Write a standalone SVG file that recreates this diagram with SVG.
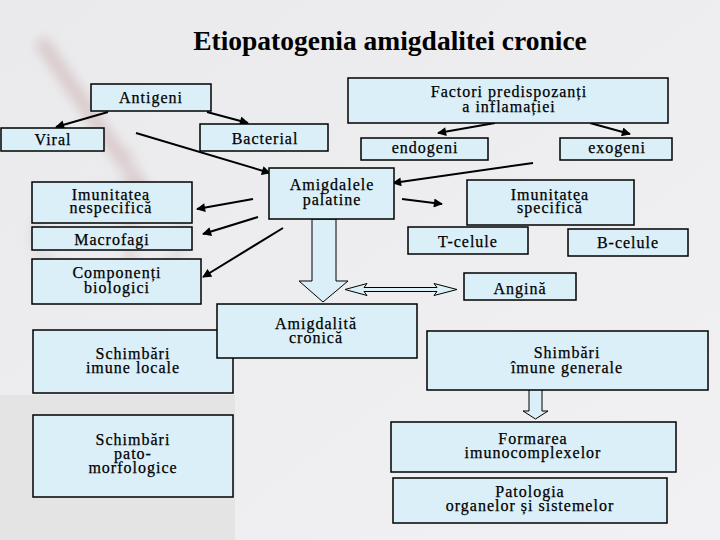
<svg xmlns="http://www.w3.org/2000/svg" width="720" height="540" viewBox="0 0 720 540">
<defs>
<linearGradient id="bg" x1="0" y1="0" x2="1" y2="1">
<stop offset="0" stop-color="#eaeaec"/>
<stop offset="1" stop-color="#f1f1f3"/>
</linearGradient>
<filter id="blur" x="-50%" y="-50%" width="200%" height="200%"><feGaussianBlur stdDeviation="6"/></filter>
<marker id="ah" viewBox="0 0 10 10" refX="9" refY="5" markerWidth="5" markerHeight="4.5" orient="auto" markerUnits="strokeWidth">
<path d="M0,0 L10,5 L0,10 z" fill="#000"/>
</marker>
<style>
.box{fill:#dbeff9;stroke:#000;stroke-width:1.5}
.t{font-family:'Liberation Serif','DejaVu Serif',serif;font-size:16px;font-weight:normal;letter-spacing:1px;fill:#000;stroke:#000;stroke-width:0.25;text-anchor:middle}
.title{font-family:'Liberation Serif','DejaVu Serif',serif;font-size:27.5px;font-weight:bold;fill:#000;text-anchor:middle}
.c{stroke:#000;stroke-width:2;fill:none;marker-end:url(#ah)}
.ha{fill:#dbeff9;stroke:#000;stroke-width:1}
</style>
</defs>
<rect x="0" y="0" width="720" height="540" fill="url(#bg)"/>
<rect x="0" y="395" width="235" height="145" fill="#e4e4e4"/>
<g filter="url(#blur)" opacity="0.35">
<path d="M40,40 L150,200" stroke="#b88888" stroke-width="14" fill="none"/>
<path d="M128,150 L132,300" stroke="#c0a0a0" stroke-width="10" fill="none"/>
<ellipse cx="110" cy="235" rx="75" ry="45" stroke="#a8a8a8" stroke-width="6" fill="none"/>
</g>

<text class="title" x="390" y="50">Etiopatogenia amigdalitei cronice</text>

<g id="connectors">
<path class="c" d="M108,112 L56,127"/>
<path class="c" d="M207,112 L248,123"/>
<path class="c" d="M136,133 L270,173"/>
<path class="c" d="M495,123 L438,133"/>
<path class="c" d="M590,123 L630,134"/>
<path class="c" d="M533,163 L393,183"/>
<path class="c" d="M402,199 L442,204"/>
<path class="c" d="M253,199 L197,209"/>
<path class="c" d="M258,217 L203,234"/>
<path class="c" d="M283,228 L203,277"/>
<polygon class="ha" points="312,219 336,219 336,281 348,281 323,302 299,281 312,281"/>
<polygon class="ha" points="345,289.5 367,283.5 364,287.5 437,287.5 434,283.5 457,289.5 434,295.5 437,291.5 364,291.5 367,295.5"/>
<polygon class="ha" points="529,388 542,388 542,411 548,411 535.5,419 523,411 529,411"/>
</g>

<g id="antigeni"><rect class="box" x="91" y="84" width="120" height="27"/><text class="t" x="151" y="103">Antigeni</text></g>
<g id="viral"><rect class="box" x="1" y="128" width="103" height="23"/><text class="t" x="53" y="145">Viral</text></g>
<g id="bacterial"><rect class="box" x="200" y="124" width="128" height="27"/><text class="t" x="265" y="144">Bacterial</text></g>
<g id="factori"><rect class="box" x="348" y="78" width="320" height="45"/><text class="t" x="509" y="97">Factori predispozanți</text><text class="t" x="509" y="112">a inflamației</text></g>
<g id="endogeni"><rect class="box" x="361" y="138" width="127" height="22"/><text class="t" x="425" y="153">endogeni</text></g>
<g id="exogeni"><rect class="box" x="560" y="138" width="112" height="22"/><text class="t" x="617" y="153">exogeni</text></g>
<g id="imunitatea-nespecifica"><rect class="box" x="32" y="182" width="160" height="41"/><text class="t" x="111" y="200">Imunitatea</text><text class="t" x="111" y="213">nespecifică</text></g>
<g id="amigdalele"><rect class="box" x="269" y="168" width="125" height="51"/><text class="t" x="332" y="190">Amigdalele</text><text class="t" x="332" y="205">palatine</text></g>
<g id="imunitatea-specifica"><rect class="box" x="467" y="180" width="167" height="45"/><text class="t" x="550" y="200">Imunitatea</text><text class="t" x="550" y="213">specifică</text></g>
<g id="macrofagi"><rect class="box" x="32" y="227" width="160" height="23"/><text class="t" x="112" y="245">Macrofagi</text></g>
<g id="t-celule"><rect class="box" x="408" y="227" width="120" height="27"/><text class="t" x="468" y="247">T-celule</text></g>
<g id="b-celule"><rect class="box" x="568" y="229" width="120" height="27"/><text class="t" x="628" y="248">B-celule</text></g>
<g id="componenti"><rect class="box" x="32" y="259" width="169" height="45"/><text class="t" x="117" y="278">Componenți</text><text class="t" x="117" y="293">biologici</text></g>
<g id="angina"><rect class="box" x="464" y="273" width="112" height="27"/><text class="t" x="520" y="294">Angină</text></g>
<g id="schimbari-locale"><rect class="box" x="33" y="330" width="200" height="63"/><text class="t" x="133" y="359">Schimbări</text><text class="t" x="133" y="373">imune locale</text></g>
<g id="amigdalita"><rect class="box" x="217" y="304" width="200" height="54"/><text class="t" x="316" y="329">Amigdalită</text><text class="t" x="316" y="343">cronică</text></g>
<g id="schimbari-generale"><rect class="box" x="427" y="331" width="281" height="59"/><text class="t" x="567" y="358">Shimbări</text><text class="t" x="567" y="373">îmune generale</text></g>
<g id="schimbari-pato"><rect class="box" x="33" y="415" width="200" height="82"/><text class="t" x="133" y="445">Schimbări</text><text class="t" x="133" y="459">pato-</text><text class="t" x="133" y="473">morfologice</text></g>
<g id="formarea"><rect class="box" x="391" y="422" width="285" height="50"/><text class="t" x="533" y="444">Formarea</text><text class="t" x="533" y="458">imunocomplexelor</text></g>
<g id="patologia"><rect class="box" x="393" y="478" width="274" height="45"/><text class="t" x="530" y="497">Patologia</text><text class="t" x="530" y="511">organelor și sistemelor</text></g>
</svg>
